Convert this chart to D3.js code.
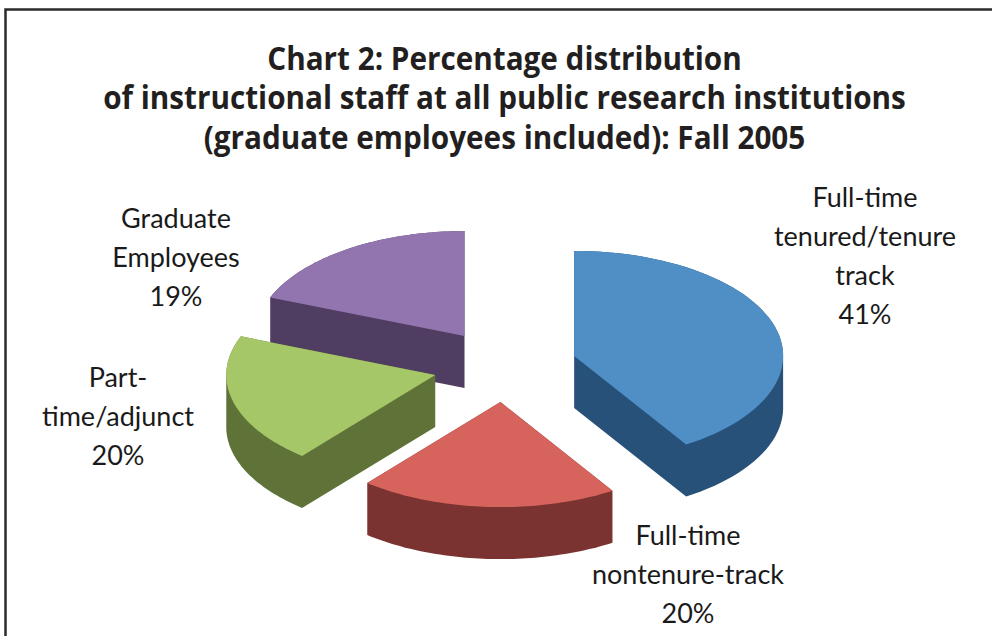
<!DOCTYPE html>
<html lang="en">
<head>
<meta charset="UTF-8">
<title>Chart 2</title>
<script src="https://cdn.jsdelivr.net/npm/d3@7"></script>
<style>
  html, body { margin: 0; padding: 0; background: #fff; }
  svg { display: block; }
</style>
</head>
<body>
<svg id="chart" width="992" height="636"></svg>
<script>
const titleLines = [
  "Chart 2: Percentage distribution",
  "of instructional staff at all public research institutions",
  "(graduate employees included): Fall 2005"
];
const categories = ["Full-time tenured/tenure track", "Full-time nontenure-track", "Part-time/adjunct", "Graduate Employees"];
const shares = [41, 20, 20, 19];
const topColors = ["#4f8fc6", "#d6635c", "#a6c768", "#9275ae"];
const sideColors = ["#28517a", "#7a3331", "#5f7339", "#503d62"];
const labelLines = [
  ["Full-time", "tenured/tenure", "track", "41%"],
  ["Full-time", "nontenure-track", "20%"],
  ["Part-", "time/adjunct", "20%"],
  ["Graduate", "Employees", "19%"]
];
const labelAnchors = [[865, 207], [688, 545], [118, 387], [176, 228]];

const svg = d3.select("#chart");

// frame
svg.append("path")
  .attr("d", "M5.5,636V9.5H992")
  .attr("fill", "none").attr("stroke", "#2b2b2b").attr("stroke-width", 2.5);

// title, squeezed a little because the original face is narrower
svg.append("g")
  .attr("transform", "translate(504.5,0) scale(0.9,1)")
  .selectAll("text").data(titleLines).join("text")
  .attr("x", 0)
  .attr("y", (d, i) => 70 + i * 39.5)
  .attr("text-anchor", "middle")
  .attr("font-family", "'Open Sans', sans-serif")
  .attr("font-weight", 700)
  .attr("font-size", 33)
  .attr("fill", "#231f20")
  .text(d => d);

// pie, unit circle squashed to an ellipse through the scales
const x = d3.scaleLinear().domain([-1, 1]).range([505 - 209, 505 + 209]);
const y = d3.scaleLinear().domain([-1, 1]).range([366 - 105, 366 + 105]);
const depth = 52, explode = 72 / 209;

const arcs = d3.pie().sort(null)(shares);

function outline(a) {
  const mid = (a.startAngle + a.endAngle) / 2;
  const [ox, oy] = d3.pointRadial(mid, explode);
  const steps = d3.range(0, 61).map(i => a.startAngle + (a.endAngle - a.startAngle) * i / 60);
  const pts = [[ox, oy]].concat(steps.map(t => {
    const [px, py] = d3.pointRadial(t, 1);
    return [ox + px, oy + py];
  }));
  return pts.map(p => [x(p[0]), y(p[1])]);
}

const line = d3.line().curve(d3.curveLinearClosed);
const drawOrder = [3, 2, 0, 1];

const slices = svg.append("g").selectAll("g").data(drawOrder).join("g");

slices.append("path")
  .attr("d", i => {
    const top = outline(arcs[i]);
    const bottom = top.map(p => [p[0], p[1] + depth]);
    return line(d3.polygonHull(top.concat(bottom)));
  })
  .attr("fill", i => sideColors[i]);

slices.append("path")
  .attr("d", i => line(outline(arcs[i])))
  .attr("fill", i => topColors[i]);

// labels
labelLines.forEach((lines, i) => {
  svg.append("g").attr("class", "label").attr("data-name", categories[i])
    .selectAll("text").data(lines).join("text")
    .attr("x", labelAnchors[i][0])
    .attr("y", (d, k) => labelAnchors[i][1] + k * 39)
    .attr("text-anchor", "middle")
    .attr("font-family", "Lato, sans-serif")
    .attr("font-size", 27)
    .attr("fill", "#1a1a1a")
    .text(d => d);
});
</script>
</body>
</html>
